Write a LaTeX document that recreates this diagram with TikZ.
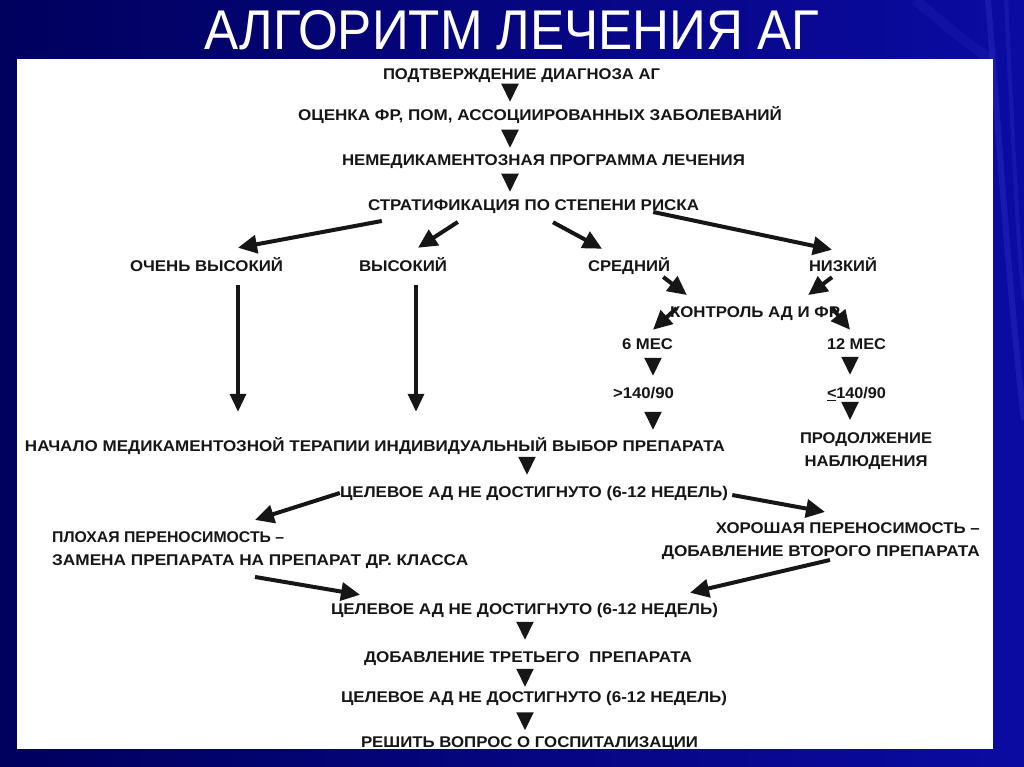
\documentclass[tikz,border=0pt]{standalone}
\usepackage{fontspec}
\usepackage{graphicx}
\setmainfont{Liberation Sans}
\usetikzlibrary{arrows.meta,calc}
\definecolor{txt}{HTML}{161616}
\definecolor{bgL}{HTML}{00005E}
\definecolor{bgR}{HTML}{0B0BA2}
\definecolor{streak}{HTML}{3A3AD0}
\newlength\fwlen
\newcommand\fitto[2]{\settowidth\fwlen{#2}\pgfmathsetmacro\fwratio{#1/\fwlen}\scalebox{\fwratio}[1]{#2}}
\tikzset{
  lbl/.style={font=\bfseries\fontsize{15.5}{23}\selectfont, text=txt, inner sep=0pt, text height=11.1pt, text depth=0pt},
  mlbl/.style={font=\bfseries\fontsize{15.5}{23}\selectfont, text=txt, inner sep=0pt},
  ttl/.style={font=\fontsize{56}{60}\selectfont, inner sep=0pt, text height=40pt, text depth=0pt},
  downtri/.style={draw=txt, line width=2pt, shorten <=7pt, -{Triangle[length=18pt,width=17pt]}},
  darr/.style={draw=txt, line width=4pt, -{Triangle[length=19pt,width=18pt]}},
  varr/.style={draw=txt, line width=3.5pt, -{Triangle[length=18pt,width=16pt]}},
}
\begin{document}
\begin{tikzpicture}[x=1pt,y=-1pt]
\useasboundingbox (0,0) rectangle (1024,767);
\shade[left color=bgL,right color=bgR] (0,0) rectangle (1024,767);
\draw[streak,opacity=0.3,line width=6pt] (988,0) .. controls (1000,150) and (1010,300) .. (1024,420);
\draw[streak,opacity=0.25,line width=4pt] (1006,0) .. controls (1012,120) and (1018,250) .. (1024,300);
\draw[streak,opacity=0.15,line width=10pt] (915,0) .. controls (940,20) and (962,40) .. (990,59);

\fill[white] (17,59) rectangle (993,749);

% title
\node[ttl,text=white] (title) at (512,30) {\fitto{615}{АЛГОРИТМ ЛЕЧЕНИЯ АГ}};

% nodes
\node[lbl] (n1) at (521.5,74) {\fitto{277}{ПОДТВЕРЖДЕНИЕ ДИАГНОЗА АГ}};
\node[lbl] (n2) at (540,115) {\fitto{484}{ОЦЕНКА ФР, ПОМ, АССОЦИИРОВАННЫХ ЗАБОЛЕВАНИЙ}};
\node[lbl] (n3) at (543.5,160) {\fitto{403}{НЕМЕДИКАМЕНТОЗНАЯ ПРОГРАММА ЛЕЧЕНИЯ}};
\node[lbl] (strat) at (533.5,205) {\fitto{331}{СТРАТИФИКАЦИЯ ПО СТЕПЕНИ РИСКА}};
\node[lbl] (vh) at (206.5,266) {\fitto{153}{ОЧЕНЬ ВЫСОКИЙ}};
\node[lbl] (hi) at (403,266) {\fitto{88}{ВЫСОКИЙ}};
\node[lbl] (mid) at (629,266) {\fitto{82}{СРЕДНИЙ}};
\node[lbl] (low) at (843,266) {\fitto{68}{НИЗКИЙ}};
\node[lbl] (ctrl) at (755,312) {\fitto{170}{КОНТРОЛЬ АД И ФР}};
\node[lbl] (m6) at (647.5,344) {\fitto{51}{6 МЕС}};
\node[lbl] (m12) at (856.5,344) {\fitto{59}{12 МЕС}};
\node[lbl] (gt) at (643.5,393) {\fitto{61}{>140/90}};
\node[lbl] (le) at (856.5,393) {\fitto{59}{\underline{<}140/90}};
\node[mlbl,anchor=north,align=center] (cont) at (866,432.45) {\fitto{132}{ПРОДОЛЖЕНИЕ}\\\fitto{123}{НАБЛЮДЕНИЯ}};
\node[lbl] (start) at (375,446) {\fitto{700}{НАЧАЛО МЕДИКАМЕНТОЗНОЙ ТЕРАПИИ ИНДИВИДУАЛЬНЫЙ ВЫБОР ПРЕПАРАТА}};
\node[lbl] (g1) at (534,492) {\fitto{388}{ЦЕЛЕВОЕ АД НЕ ДОСТИГНУТО (6-12 НЕДЕЛЬ)}};
\node[mlbl,anchor=north west,align=left] (bad) at (52,531.45) {\fitto{232}{ПЛОХАЯ ПЕРЕНОСИМОСТЬ –}\\\fitto{416}{ЗАМЕНА ПРЕПАРАТА НА ПРЕПАРАТ ДР. КЛАССА}};
\node[mlbl,anchor=north east,align=right] (good) at (980,522.45) {\fitto{264}{ХОРОШАЯ ПЕРЕНОСИМОСТЬ –}\\\fitto{318}{ДОБАВЛЕНИЕ ВТОРОГО ПРЕПАРАТА}};
\node[lbl] (g2) at (524.5,609) {\fitto{387}{ЦЕЛЕВОЕ АД НЕ ДОСТИГНУТО (6-12 НЕДЕЛЬ)}};
\node[lbl] (add3) at (528,657) {\fitto{328}{ДОБАВЛЕНИЕ ТРЕТЬЕГО \ ПРЕПАРАТА}};
\node[lbl] (g3) at (534,697) {\fitto{386}{ЦЕЛЕВОЕ АД НЕ ДОСТИГНУТО (6-12 НЕДЕЛЬ)}};
\node[lbl] (hosp) at (529.5,741.5) {\fitto{337}{РЕШИТЬ ВОПРОС О ГОСПИТАЛИЗАЦИИ}};

% down triangles
\draw[downtri] ($(n1.south)+(-11.5,3.5)$) -- ($(n2.north)+(-30,-7.5)$);
\draw[downtri] ($(n2.south)+(-30,7.5)$) -- ($(n3.north)+(-33.5,-6.5)$);
\draw[downtri] ($(n3.south)+(-33.5,6.5)$) -- ($(strat.north)+(-23.5,-7.5)$);
\draw[downtri] ($(m6.south)+(5.5,6.5)$) -- ($(gt.north)+(9.5,-11.5)$);
\draw[downtri] ($(gt.south)+(9.5,11.5)$) -- ($(start.north)+(278,-10.5)$);
\draw[downtri] ($(m12.south)+(-6.5,5.5)$) -- ($(le.north)+(-6.5,-12.5)$);
\draw[downtri] ($(le.south)+(-6.5,1.5)$) -- ($(cont.north)+(-16,-12.5)$);
\draw[downtri] ($(start.south)+(152,4.5)$) -- ($(g1.north)+(-7,-11.5)$);
\draw[downtri] ($(g2.south)+(0.5,5.5)$) -- ($(add3.north)+(-3,-11.5)$);
\draw[downtri] ($(add3.south)+(-3,2.5)$) -- ($(g3.north)+(-9,-4.5)$);
\draw[downtri] ($(g3.south)+(-9,7.5)$) -- ($(hosp.north)+(-4.5,-5.5)$);

% diagonal arrows
\draw[darr] ($(strat.west)+(14,16)$) -- ($(vh.north)+(31.5,-12.5)$);
\draw[darr] ($(strat.west)+(90,17)$) -- ($(hi.north)+(15,-12.5)$);
\draw[darr] ($(strat.south)+(19.5,11.5)$) -- ($(mid.north)+(-27,-11.5)$);
\draw[darr] ($(strat.east)+(-46,7)$) -- ($(low.north)+(-11,-10.5)$);
\draw[darr] ($(mid.east)+(-7,11)$) -- ($(ctrl.west)+(17,-17)$);
\draw[darr] ($(low.south)+(-11,5.5)$) -- ($(ctrl.east)+(-32,-17)$);
\draw[darr] ($(ctrl.west)+(7,-4)$) -- ($(m6.north)+(5.5,-8.5)$);
\draw[darr] ($(ctrl.east)+(-8,-4)$) -- ($(m12.north)+(-6.5,-8.5)$);
\draw[darr] ($(g1.west)+(0,1)$) -- ($(bad.north west)+(203,-11.5)$);
\draw[darr] ($(g1.east)+(4,3)$) -- ($(good.north east)+(-155,-10.5)$);
\draw[darr] ($(bad.north west)+(203,45.5)$) -- ($(g2.north)+(-164.5,-8.5)$);
\draw[darr] ($(good.north east)+(-150,37.5)$) -- ($(g2.north)+(165.5,-10.5)$);

% long vertical arrows
\draw[varr] ($(vh.south)+(31.5,13.5)$) -- ($(start.north)+(-137,-28.5)$);
\draw[varr] ($(hi.south)+(13,13.5)$) -- ($(start.north)+(41,-28.5)$);
\end{tikzpicture}
\end{document}
